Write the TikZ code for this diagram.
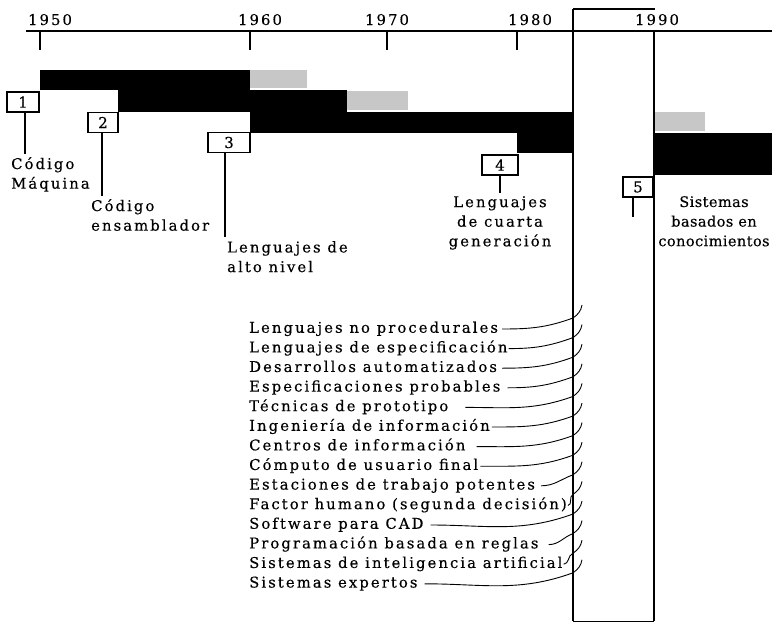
\documentclass[tikz,border=0pt]{standalone}
\usepackage{fontspec}
\setmainfont{DejaVu Serif}[LetterSpace=14, FakeBold=0.3]
\newfontfamily\tightfont{DejaVu Serif}[LetterSpace=3, FakeBold=0.3]
\begin{document}
\begin{tikzpicture}[x=1pt,y=1pt,
  txt/.style={font=\fontsize{14.8}{19.6}\selectfont, inner sep=0pt},
  numbox/.style={draw, line width=1.2pt, fill=white, minimum height=20pt, inner sep=0pt, font=\fontsize{15}{16}\selectfont},
  blackbar/.style={fill=black},
  greypatch/.style={fill=black!22},
  stem/.style={line width=1.2pt},
  leader/.style={line width=0.9pt},
  item/.style={txt, anchor=west, text height=11pt, text depth=3.5pt},
  lbl/.style={txt, align=left, anchor=north west},
  clbl/.style={txt, align=center, anchor=north}]
\useasboundingbox (0,0) rectangle (772,-624);
% time axis
\coordinate (axL) at (26,-31);
\coordinate (axR) at (772,-31);
\draw[line width=1.3pt] (axL) -- (axR);
\foreach \x/\lx/\yr in {40/50/1950, 250/260/1960, 387/387/1970, 517/530/1980} {
  \coordinate (tk\yr) at (\x,-31);
  \coordinate (te\yr) at (\x,-50);
  \draw[line width=1.5pt] (tk\yr) -- (te\yr);
  \node[txt, anchor=base] (y\yr) at (\lx,-25) {\yr};
}
\node[txt, anchor=base] (y1990) at (657,-25) {1990};
% bars
\fill[blackbar] (40,-70) rectangle (250,-90);
\fill[greypatch] (250,-70) rectangle (307,-88);
\fill[blackbar] (118,-90) rectangle (347,-112);
\fill[greypatch] (347,-91) rectangle (408,-110);
\fill[blackbar] (250,-112) rectangle (573,-133);
\fill[blackbar] (517,-133) rectangle (573,-153);
\fill[greypatch] (655,-112) rectangle (705,-131);
\fill[blackbar] (654,-133) rectangle (772,-175);
% highlighted period box
\coordinate (bTL) at (573,-9);
\coordinate (bTR) at (655,-9);
\coordinate (bRA) at (654,-31);
\coordinate (bBL) at (573,-621);
\coordinate (bBR) at (654,-621);
\draw[line width=2pt] (bTL) -- (bBL);
\draw[line width=1.6pt] (bRA) -- (bBR);
\draw[line width=1.3pt] (bTL) -- (bTR);
\draw[line width=1pt] (bBL) -- (bBR);
% numbered boxes
\node[numbox, minimum width=32pt] (b1) at (23,-102) {1};
\node[numbox, minimum width=30pt] (b2) at (103,-122.5) {2};
\node[numbox, minimum width=42pt] (b3) at (229,-142.5) {3};
\node[numbox, minimum width=36pt] (b4) at (500,-165) {4};
\node[numbox, minimum width=30pt] (b5) at (638,-187) {5};
% labels
\node[lbl] (l1) at (11,-157) {Código\\Máquina};
\node[lbl] (l2) at (91,-199) {Código\\ensamblador};
\node[lbl] (l3) at (227,-241) {Lenguajes de\\alto nivel};
\node[clbl] (l4) at (500,-196) {Lenguajes\\de cuarta\\generación};
\node[clbl, font=\fontsize{14.5}{19.6}\tightfont] (l5) at (714,-196) {Sistemas\\basados en\\conocimientos};
% stems
\coordinate (s1) at (25,-154);
\coordinate (s2) at (102,-196);
\coordinate (s3) at (225,-237);
\coordinate (s4) at (500,-193);
\coordinate (s5) at (633,-217);
\draw[stem] (b1.south -| s1) -- (s1);
\draw[stem] (b2.south -| s2) -- (s2);
\draw[stem] (b3.south -| s3) -- (s3);
\draw[stem] (b4.south -| s4) -- (s4);
\draw[stem] (b5.south -| s5) -- (s5);
% list with leaders
\foreach \i/\t/\g in {
  1/Lenguajes no procedurales/4,
  2/Lenguajes de especificación/1,
  3/Desarrollos automatizados/5,
  4/Especificaciones probables/7,
  5/Técnicas de prototipo/17,
  6/Ingeniería de información/2,
  7/Centros de información/11,
  8/Cómputo de usuario final/2,
  9/Estaciones de trabajo potentes/6,
  10/Factor humano (segunda decisión)/1,
  11/Software para CAD/7,
  12/Programación basada en reglas/10,
  13/Sistemas de inteligencia artificial/1,
  14/Sistemas expertos/7} {
  \pgfmathsetmacro{\yy}{-(329+19.6*(\i-1))}
  \node[item] (t\i) at (249,\yy) {\t};
  \coordinate (c\i) at (573,\yy+11);
  \coordinate (h\i) at (582,\yy+24);
  \draw[leader] ([xshift=\g pt]t\i.east) to[out=0,in=200] (c\i) to[out=35,in=-100] (h\i);
}
\end{tikzpicture}
\end{document}
